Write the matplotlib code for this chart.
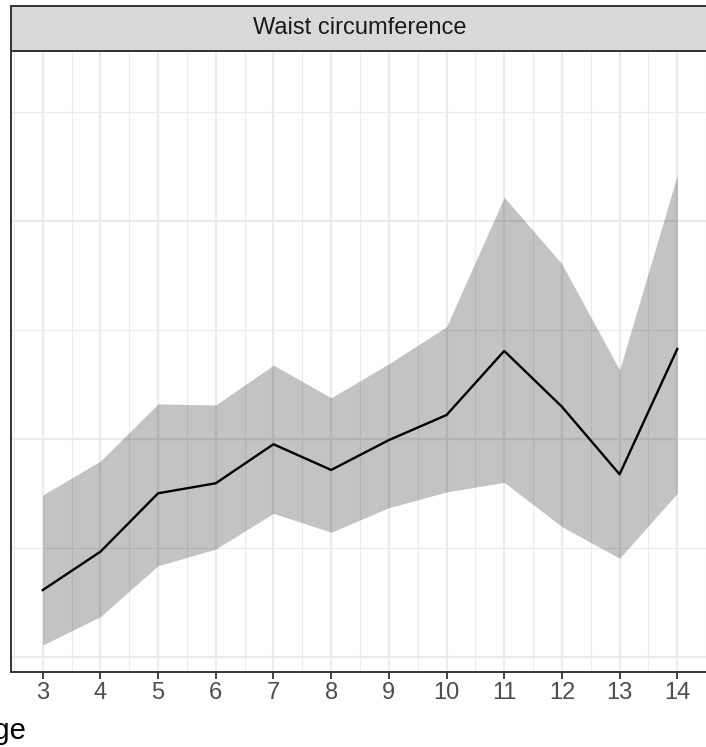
import numpy as np
import matplotlib
matplotlib.use("Agg")
import matplotlib.pyplot as plt

plt.rcParams['font.family'] = ['Liberation Sans', 'DejaVu Sans']

# values
age = [3, 4, 5, 6, 7, 8, 9, 10, 11, 12, 13, 14]
waist_mean = [53.07, 54.83, 57.51, 57.97, 59.76, 58.58, 59.95, 61.10, 64.04, 61.48, 58.38, 64.13]
waist_upper = [57.43, 58.99, 61.61, 61.56, 63.39, 61.89, 63.45, 65.15, 71.09, 68.03, 63.17, 72.11]
waist_lower = [50.55, 51.85, 54.19, 54.95, 56.59, 55.72, 56.85, 57.57, 58.01, 55.98, 54.53, 57.51]
panel_title = "Waist circumference"
x_title = "Age"

W, H = 706, 747
fig = plt.figure(figsize=(W / 100, H / 100), dpi=100)

# panel (right side runs past the image edge, like the cropped original)
left, right, top, bottom = 11, 709, 51, 672
ax = fig.add_axes([left / W, 1 - bottom / H, (right - left) / W, (bottom - top) / H])

grid = "#EBEBEB"
ax.fill_between(age, waist_lower, waist_upper, color="black", alpha=0.235, lw=0, zorder=3)
ax.plot(age, waist_mean, color="black", lw=1.7, zorder=4)

ax.set_xlim(3 - 0.55, 14 + 0.55)
ax.set_ylim(50 - 15 / 21.8, 50 + 606 / 21.8)

ax.set_xticks(age)
ax.set_xticks(np.arange(2.5, 15, 1), minor=True)
ax.set_yticks([50, 60, 70])
ax.set_yticks([55, 65, 75], minor=True)
ax.grid(which="major", color=grid, lw=1.6, zorder=1)
ax.grid(which="minor", color=grid, lw=0.8, zorder=1)
ax.set_axisbelow(True)

ax.tick_params(axis="x", which="major", length=5, width=1.3, color="#333333",
               labelcolor="#4D4D4D", labelsize=17, pad=2.5)
ax.tick_params(axis="x", which="minor", length=0)
ax.tick_params(axis="y", which="both", length=0, labelleft=False)
for s in ax.spines.values():
    s.set_color("#333333")
    s.set_linewidth(1.4)

# facet strip
strip = fig.add_axes([left / W, 1 - top / H, (right - left) / W, (top - 6) / H])
strip.set_facecolor("#D9D9D9")
strip.set_xticks([])
strip.set_yticks([])
for s in strip.spines.values():
    s.set_color("#333333")
    s.set_linewidth(1.4)
strip.text(0.5, 0.5, panel_title, transform=strip.transAxes,
           ha="center", va="center", fontsize=17, color="#1A1A1A")

# axis title, cut at the image edge as in the original
fig.text(27 / W, 1 - 739 / H, x_title, ha="right", va="baseline", fontsize=21, color="black")

fig.savefig("out.png", dpi=100)
